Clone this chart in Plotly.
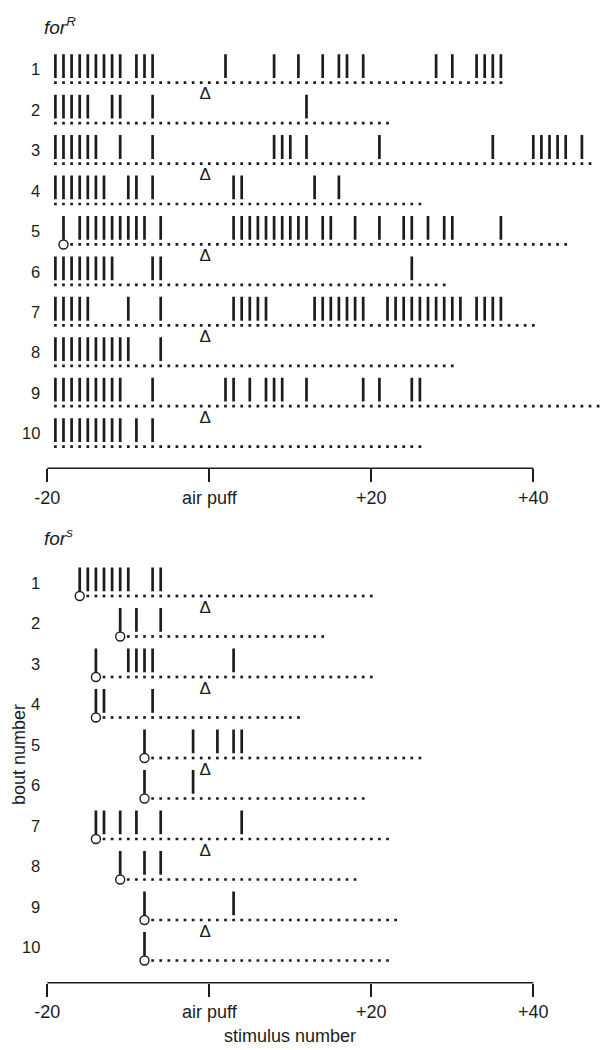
import plotly.graph_objects as go

# ---------------- data ----------------
bouts = [1, 2, 3, 4, 5, 6, 7, 8, 9, 10]
bout_labels = ["1", "2", "3", "4", "5", "6", "7", "8", "9", "10"]

# for^R panel: stimulus numbers with a response (vertical bars)
forR_ticks = [
    [-19, -18, -17, -16, -15, -14, -13, -12, -11, -9, -8, -7, 2, 8, 11, 14, 16, 17, 19, 28, 30, 33, 34, 35, 36],
    [-19, -18, -17, -16, -15, -12, -11, -7, 12],
    [-19, -18, -17, -16, -15, -14, -11, -7, 8, 9, 10, 12, 21, 35, 40, 41, 42, 43, 44, 46],
    [-19, -18, -17, -16, -15, -14, -13, -10, -9, -7, 3, 4, 13, 16],
    [-18, -16, -15, -14, -13, -12, -11, -10, -9, -8, -6, 3, 4, 5, 6, 7, 8, 9, 10, 11, 12,
     14, 15, 18, 21, 24, 25, 27, 29, 30, 36],
    [-19, -18, -17, -16, -15, -14, -13, -12, -7, -6, 25],
    [-19, -18, -17, -16, -15, -10, -6, 3, 4, 5, 6, 7, 13, 14, 15, 16, 17, 18, 19,
     22, 23, 24, 25, 26, 27, 28, 29, 30, 31, 33, 34, 35, 36],
    [-19, -18, -17, -16, -15, -14, -13, -12, -11, -10, -6],
    [-19, -18, -17, -16, -15, -14, -13, -12, -11, -7, 2, 3, 5, 7, 8, 9, 12, 19, 21, 25, 26],
    [-19, -18, -17, -16, -15, -14, -13, -12, -11, -9, -7],
]
forR_start = [-19, -19, -19, -19, -18, -19, -19, -19, -19, -19]
forR_end = [36, 22, 47, 26, 44, 29, 40, 30, 49, 26]
forR_circle = [False, False, False, False, True, False, False, False, False, False]
forR_puff = [True, False, True, False, True, False, True, False, True, False]

# for^s panel
fors_ticks = [
    [-16, -15, -14, -13, -12, -11, -10, -7, -6],
    [-11, -9, -6],
    [-14, -10, -9, -8, -7, 3],
    [-14, -13, -7],
    [-8, -2, 1, 3, 4],
    [-8, -2],
    [-14, -13, -11, -9, -6, 4],
    [-11, -8, -6],
    [-8, 3],
    [-8],
]
fors_start = [-16, -11, -14, -14, -8, -8, -14, -11, -8, -8]
fors_end = [20, 14, 20, 11, 26, 19, 22, 18, 23, 22]
fors_circle = [True] * 10
fors_puff = [True, False, True, False, True, False, True, False, True, False]

axis_tickvals = [-20, 0, 20, 40]
axis_ticktext = ["-20", "air puff", "+20", "+40"]
puff_x = -0.5

# ---------------- layout constants ----------------
# the page body adds an 8 px offset, so the figure is 8 px smaller each way
OFF = 8
W, H = 608 - OFF, 1050 - OFF
PX0, PPU = 209.3 - OFF, 8.1           # pixel of x=0, pixels per stimulus
x_range = [-PX0 / PPU, (W - PX0) / PPU]
INK = "#1c1c1c"
FONT = "Liberation Sans, Arial, Helvetica, sans-serif"

TICK_OFF = -0.41   # bar centre relative to the dotted line (row units)
PUFF_OFF = 0.31
LABEL_OFF = -0.33

fig = go.Figure()


def add_panel(ticks, starts, ends, circles, puffs, xa, ya):
    tx, ty, dx, dy, cx, cy, px, py = [], [], [], [], [], [], [], []
    for b, tk, s, e, c, p in zip(bouts, ticks, starts, ends, circles, puffs):
        for t in tk:
            tx.append(t)
            ty.append(b + TICK_OFF)
        first = s + 1 if c else s
        for v in range(first, e + 1):
            dx.append(v)
            dy.append(b)
        if c:
            cx.append(s)
            cy.append(b)
        if p:
            px.append(puff_x)
            py.append(b + PUFF_OFF)
    fig.add_trace(go.Scatter(x=dx, y=dy, mode="markers", xaxis=xa, yaxis=ya,
                             marker=dict(symbol="square", size=2.7, color=INK,
                                         line=dict(width=0)),
                             hoverinfo="skip", showlegend=False))
    fig.add_trace(go.Scatter(x=tx, y=ty, mode="markers", xaxis=xa, yaxis=ya,
                             marker=dict(symbol="line-ns", size=17,
                                         line=dict(width=2.7, color=INK)),
                             hoverinfo="skip", showlegend=False))
    if cx:
        fig.add_trace(go.Scatter(x=cx, y=cy, mode="markers", xaxis=xa, yaxis=ya,
                                 marker=dict(symbol="circle", size=9, color="white",
                                             line=dict(width=1.4, color=INK)),
                                 hoverinfo="skip", showlegend=False))
    fig.add_trace(go.Scatter(x=px, y=py, mode="text", xaxis=xa, yaxis=ya,
                             text=["Δ"] * len(px), textposition="middle center",
                             textfont=dict(family=FONT, size=17, color=INK),
                             hoverinfo="skip", showlegend=False))


add_panel(forR_ticks, forR_start, forR_end, forR_circle, forR_puff, "x", "y")
add_panel(fors_ticks, fors_start, fors_end, fors_circle, fors_puff, "x2", "y2")

# y geometry (pixels inside the figure)
top_row1, top_sp, top_axis = 82.7 - OFF, 40.44, 468.3 - OFF
bot_row1, bot_sp, bot_axis, bot_top = 596.0 - OFF, 40.5, 982.7 - OFF, 500.0 - OFF

top_dom = [1 - top_axis / H, 1.0]
bot_dom = [1 - bot_axis / H, 1 - bot_top / H]
top_rng = [1 + (top_axis - top_row1) / top_sp, 1 - top_row1 / top_sp]
bot_rng = [1 + (bot_axis - bot_row1) / bot_sp, 1 + (bot_top - bot_row1) / bot_sp]

xa_common = dict(range=x_range, domain=[0, 1], showgrid=False, zeroline=False,
                 showline=False, tickmode="array", tickvals=axis_tickvals,
                 ticktext=axis_ticktext, ticks="outside", ticklen=13, tickwidth=1.5,
                 tickcolor=INK, tickfont=dict(family=FONT, size=18, color=INK))
ya_common = dict(showgrid=False, zeroline=False, showline=False, showticklabels=False,
                 ticks="")

fig.update_layout(
    width=W, height=H, margin=dict(l=0, r=0, t=0, b=0),
    paper_bgcolor="white", plot_bgcolor="white",
    xaxis=dict(anchor="y", **xa_common),
    xaxis2=dict(anchor="y2", **xa_common),
    yaxis=dict(domain=top_dom, range=top_rng, anchor="x", **ya_common),
    yaxis2=dict(domain=bot_dom, range=bot_rng, anchor="x2", **ya_common),
)

# axis baselines spanning -20..+40 only
for dom in (top_dom, bot_dom):
    fig.add_shape(type="line", xref="x", yref="paper",
                  x0=axis_tickvals[0], x1=axis_tickvals[-1], y0=dom[0], y1=dom[0],
                  line=dict(color=INK, width=1.5))

annos = []
# row labels
for ya in ("y", "y2"):
    for b, lab in zip(bouts, bout_labels):
        annos.append(dict(x=-20.65, y=b + LABEL_OFF, xref="x", yref=ya, text=lab,
                          showarrow=False, xanchor="right", yanchor="middle",
                          font=dict(family=FONT, size=16.5, color=INK)))
# panel titles
annos.append(dict(x=(42 - OFF) / W, y=1 - (26 - OFF) / H, xref="paper", yref="paper",
                  text="<i>for<sup>R</sup></i>", showarrow=False, xanchor="left",
                  yanchor="middle", font=dict(family=FONT, size=19, color=INK)))
annos.append(dict(x=(42 - OFF) / W, y=1 - (537 - OFF) / H, xref="paper", yref="paper",
                  text="<i>for<sup>s</sup></i>", showarrow=False, xanchor="left",
                  yanchor="middle", font=dict(family=FONT, size=19, color=INK)))
# axis titles
annos.append(dict(x=10, y=1 - (1036 - OFF) / H, xref="x2", yref="paper",
                  text="stimulus number", showarrow=False, xanchor="center",
                  yanchor="middle", font=dict(family=FONT, size=18, color=INK)))
annos.append(dict(x=11 / W, y=1 - (755 - OFF) / H, xref="paper", yref="paper",
                  text="bout number", showarrow=False, xanchor="center", yanchor="middle",
                  textangle=-90, font=dict(family=FONT, size=18, color=INK)))
fig.update_layout(annotations=annos)

fig.write_html("out.html")
